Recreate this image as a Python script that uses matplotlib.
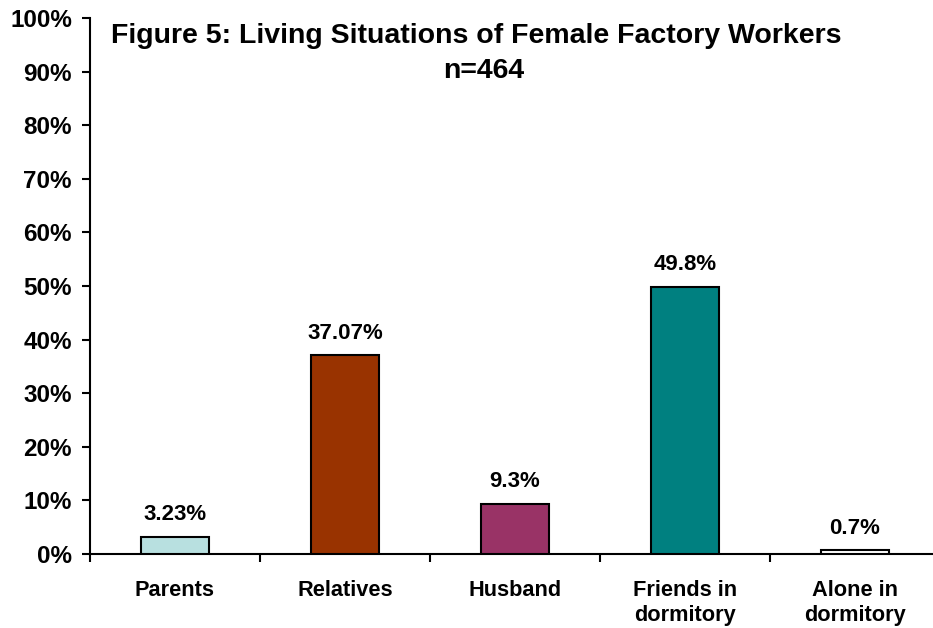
import matplotlib.pyplot as plt
import numpy as np
from matplotlib.ticker import FixedLocator

categories = ['Parents', 'Relatives', 'Husband', 'Friends in\ndormitory', 'Alone in\ndormitory']
values = [3.23, 37.07, 9.3, 49.8, 0.7]
value_labels = ['3.23%', '37.07%', '9.3%', '49.8%', '0.7%']
colors = ['#B8E0E0', '#993300', '#993366', '#008080', '#FFFFFF']

plt.rcParams['font.family'] = ['Liberation Sans', 'DejaVu Sans']
plt.rcParams['font.weight'] = 'bold'

fig = plt.figure(figsize=(9.33, 6.28), dpi=100)
ax = fig.add_axes([90 / 933, 1 - 554 / 628, 850 / 933, (554 - 18) / 628])

x = np.arange(len(categories))
ax.bar(x, values, width=0.4, color=colors, edgecolor='black', linewidth=1.5, zorder=3)

# value labels sit about 17px above each bar
for xi, v, lab in zip(x, values, value_labels):
    ax.annotate(lab, (xi, v), xytext=(0, 12), textcoords='offset points',
                ha='center', va='baseline', fontsize=16, fontweight='bold')

ax.set_xlim(-0.5, 4.5)
ax.set_ylim(0, 100)
ax.set_yticks(range(0, 101, 10))
ax.set_yticklabels([f'{t}%' for t in range(0, 101, 10)], fontsize=17.5, fontweight='bold')

ax.set_xticks(x)
ax.set_xticklabels(categories, fontsize=15.7, fontweight='bold', linespacing=1.2)
ax.tick_params(axis='x', which='major', length=0, pad=19)
ax.xaxis.set_minor_locator(FixedLocator(np.arange(-0.5, 5, 1)))
ax.tick_params(axis='x', which='minor', length=6, width=1.5, direction='out')
ax.tick_params(axis='y', length=6, width=1.5, direction='out', pad=7)

for side in ['top', 'right']:
    ax.spines[side].set_visible(False)
for side in ['left', 'bottom']:
    ax.spines[side].set_linewidth(1.5)

fig.text(476 / 933, 1 - 43 / 628, 'Figure 5: Living Situations of Female Factory Workers',
         ha='center', va='baseline', fontsize=20.5, fontweight='bold')
fig.text(484 / 933, 1 - 78 / 628, 'n=464', ha='center', va='baseline',
         fontsize=20.5, fontweight='bold')

fig.savefig('out.png', dpi=100)
